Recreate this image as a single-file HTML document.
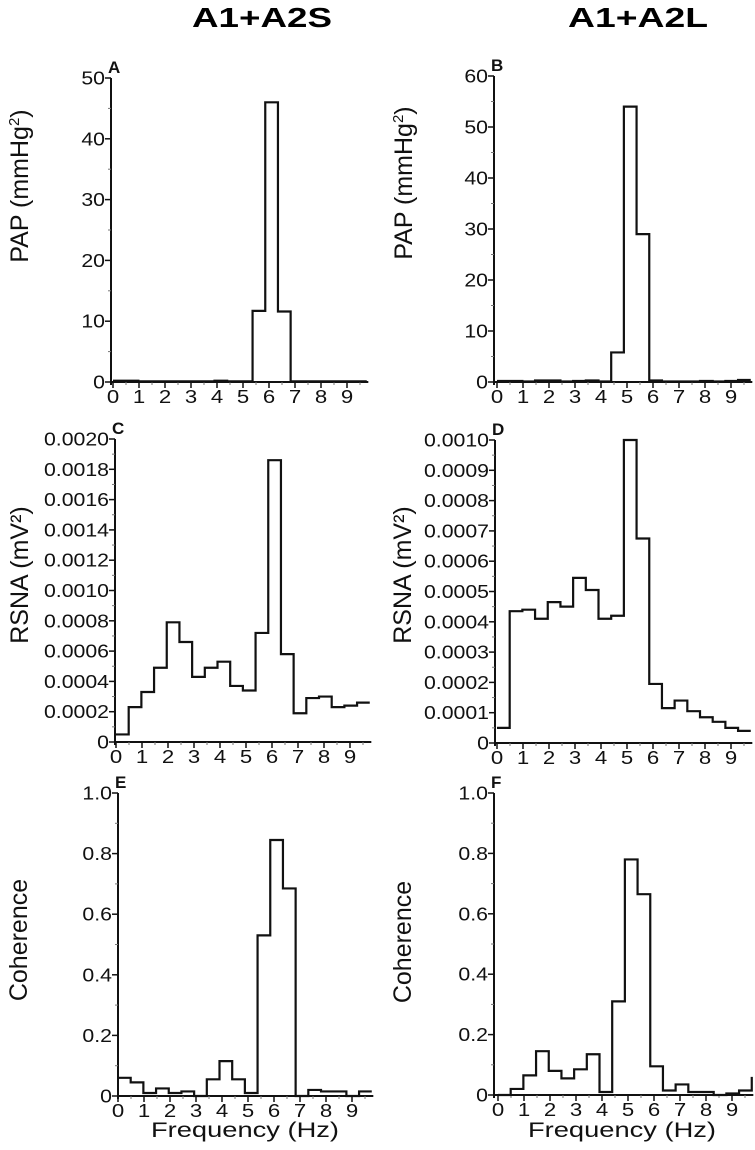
<!DOCTYPE html>
<html><head><meta charset="utf-8">
<style>
html,body{margin:0;padding:0;background:#fff;}
svg{display:block;font-family:"Liberation Sans",Arial,sans-serif;}
</style></head>
<body>
<svg id="fig" width="755" height="1150" viewBox="0 0 755 1150">
<text x="192" y="27" font-size="28" font-weight="bold" textLength="140" lengthAdjust="spacingAndGlyphs">A1+A2S</text>
<text x="568" y="27" font-size="28" font-weight="bold" textLength="140" lengthAdjust="spacingAndGlyphs">A1+A2L</text>
</svg>
<script>
const binWidth = 0.488;
const xTicks = [0,1,2,3,4,5,6,7,8,9];
const papA = [0.2,0.2,0.1,0.1,0.1,0.1,0.1,0.1,0.2,0.1,0.1,11.7,46,11.6,0.1,0.1,0.1,0.1,0.1,0.1];
const papB = [0.2,0.2,0.1,0.3,0.3,0.1,0.2,0.3,0.1,5.8,54,29,0.3,0.1,0.1,0.1,0.2,0.1,0.2,0.4];
const rsnaC = [0.00005,0.00023,0.00033,0.00049,0.00079,0.00066,0.00043,0.00049,0.00053,0.00037,0.00034,0.00072,0.00186,0.00058,0.00019,0.00029,0.0003,0.00023,0.00024,0.00026];
const rsnaD = [0.00005,0.000435,0.00044,0.00041,0.000465,0.00045,0.000545,0.000505,0.00041,0.00042,0.001,0.000675,0.000195,0.000115,0.00014,0.000105,0.000085,0.00007,0.00005,0.00004];
const cohE = [0.06,0.045,0.01,0.025,0.01,0.015,0.0,0.055,0.115,0.055,0.01,0.53,0.845,0.685,0.0,0.02,0.015,0.015,0.0,0.015];
const cohF = [0.0,0.02,0.065,0.145,0.08,0.055,0.085,0.135,0.01,0.31,0.78,0.665,0.095,0.015,0.035,0.01,0.01,0.0,0.005,0.015];
const ticksA = [0,10,20,30,40,50];
const ticksB = [0,10,20,30,40,50,60];
const ticksC = [0,0.0002,0.0004,0.0006,0.0008,0.0010,0.0012,0.0014,0.0016,0.0018,0.0020];
const labelsC = ["0","0.0002","0.0004","0.0006","0.0008","0.0010","0.0012","0.0014","0.0016","0.0018","0.0020"];
const ticksD = [0,0.0001,0.0002,0.0003,0.0004,0.0005,0.0006,0.0007,0.0008,0.0009,0.0010];
const labelsD = ["0","0.0001","0.0002","0.0003","0.0004","0.0005","0.0006","0.0007","0.0008","0.0009","0.0010"];
const ticksE = [0,0.2,0.4,0.6,0.8,1.0];
const labelsE = ["0","0.2","0.4","0.6","0.8","1.0"];

const NS = "http://www.w3.org/2000/svg";
const svg = document.getElementById('fig');
function mk(tag, attrs, parent){
  const e = document.createElementNS(NS, tag);
  for (const k in attrs) e.setAttribute(k, attrs[k]);
  (parent||svg).appendChild(e);
  return e;
}
function stext(x, y, anchor, size, sx, parent){
  return mk('text', {x:0, y:0, 'text-anchor':anchor, 'font-size':size, fill:'#111',
    transform:'translate('+x+','+y+') scale('+sx+',1)'}, parent);
}

function panel(p){
  const g = mk('g', {});
  
  
  const xs = v => p.x0 + v * 26;
  const ys = v => p.y0 - (v / p.ymax) * (p.y0 - p.ytop);
  const xEnd = xs(9.82);
  const ya = mk('line', {x1:p.ax, y1:p.ytop, x2:p.ax, y2:p.y0+3, stroke:'#111','stroke-width':2}, g);
  
  
  const xa = mk('line', {x1:p.ax, y1:p.y0, x2:xEnd, y2:p.y0, stroke:'#111','stroke-width':2}, g);
  
  
  p.ticks.forEach((t,i) => {
    const y = ys(t);
    mk('line', {x1:p.ax-6, y1:y, x2:p.ax, y2:y, stroke:'#111','stroke-width':1.5}, g);
    if (i < p.ticks.length-1) {
      const ym = ys((t + p.ticks[i+1]) / 2);
      mk('line', {x1:p.ax-3, y1:ym, x2:p.ax, y2:ym, stroke:'#777','stroke-width':1}, g);
    }
    const tl = stext(p.ax-6, y+6.5, 'end', 18.5, 1.15, g);
    tl.textContent = p.labels ? p.labels[i] : String(t);
    
    
  });
  xTicks.forEach(t => {
    const x = xs(t);
    mk('line', {x1:x, y1:p.y0, x2:x, y2:p.y0+6, stroke:'#111','stroke-width':1.5}, g);
    mk('line', {x1:xs(t+0.5), y1:p.y0, x2:xs(t+0.5), y2:p.y0+3, stroke:'#777','stroke-width':1}, g);
    const tl = stext(x, p.y0+21, 'middle', 18.5, 1.2, g);
    tl.textContent = String(t);
    
    
  });
  let d = '';
  p.data.forEach((v,i) => {
    const xa_ = xs(i*binWidth), xb = xs((i+1)*binWidth), y = ys(v);
    d += (i===0 ? 'M'+xa_+','+y : 'L'+xa_+','+y) + ' L'+xb+','+y;
  });
  if (p.endUp) d += ' L'+xs(p.data.length*binWidth)+','+ys(p.endUp);
  const path = mk('path', {d:d, fill:'none', stroke:'#111','stroke-width':2.2}, g);
  
  
  const lt = mk('text', {x:p.ax-3, y:p.ytop-5, 'font-size':17,'font-weight':'bold', fill:'#111'}, g);
  lt.textContent = p.letter;
  
  
  const yt = mk('text', {x:0, y:0, 'text-anchor':'middle','font-size':25, fill:'#111',
    transform:'translate('+p.ytx+','+p.yty+') rotate(-90)'}, g);
  yt.innerHTML = p.ytitle;
  
  
  if (p.xtitle) {
    const xt = stext(p.xtx, 1137, 'middle', 21, 1.3, g);
    xt.textContent = 'Frequency (Hz)';
    
    
  }
}

const papTitle = 'PAP (mmHg<tspan font-size="15" dy="-9">2</tspan><tspan dy="9">)</tspan>';
panel({id:'a', letter:'A', ax:111, x0:113, y0:382, ytop:78, ymax:50, ticks:ticksA, data:papA,
  ytitle:papTitle, ytx:28, yty:186});
panel({id:'b', letter:'B', ax:494, x0:497, y0:382, ytop:76, ymax:60, ticks:ticksB, data:papB,
  ytitle:papTitle, ytx:412, yty:183});
panel({id:'c', letter:'C', ax:115, x0:116, y0:742, ytop:439, ymax:0.0020, ticks:ticksC, labels:labelsC, data:rsnaC,
  ytitle:'RSNA (mV²)', ytx:28, yty:575});
panel({id:'d', letter:'D', ax:495, x0:497, y0:743, ytop:440, ymax:0.0010, ticks:ticksD, labels:labelsD, data:rsnaD,
  ytitle:'RSNA (mV²)', ytx:411, yty:575});
panel({id:'e', letter:'E', ax:118, x0:118, y0:1096, ytop:793, ymax:1.0, ticks:ticksE, labels:labelsE, data:cohE,
  ytitle:'Coherence', ytx:27, yty:940, xtitle:true, xtx:245});
panel({id:'f', letter:'F', ax:494, x0:498, y0:1095, ytop:793, ymax:1.0, ticks:ticksE, labels:labelsE, data:cohF, endUp:0.06,
  ytitle:'Coherence', ytx:411, yty:942, xtitle:true, xtx:622});
</script>
</body></html>
